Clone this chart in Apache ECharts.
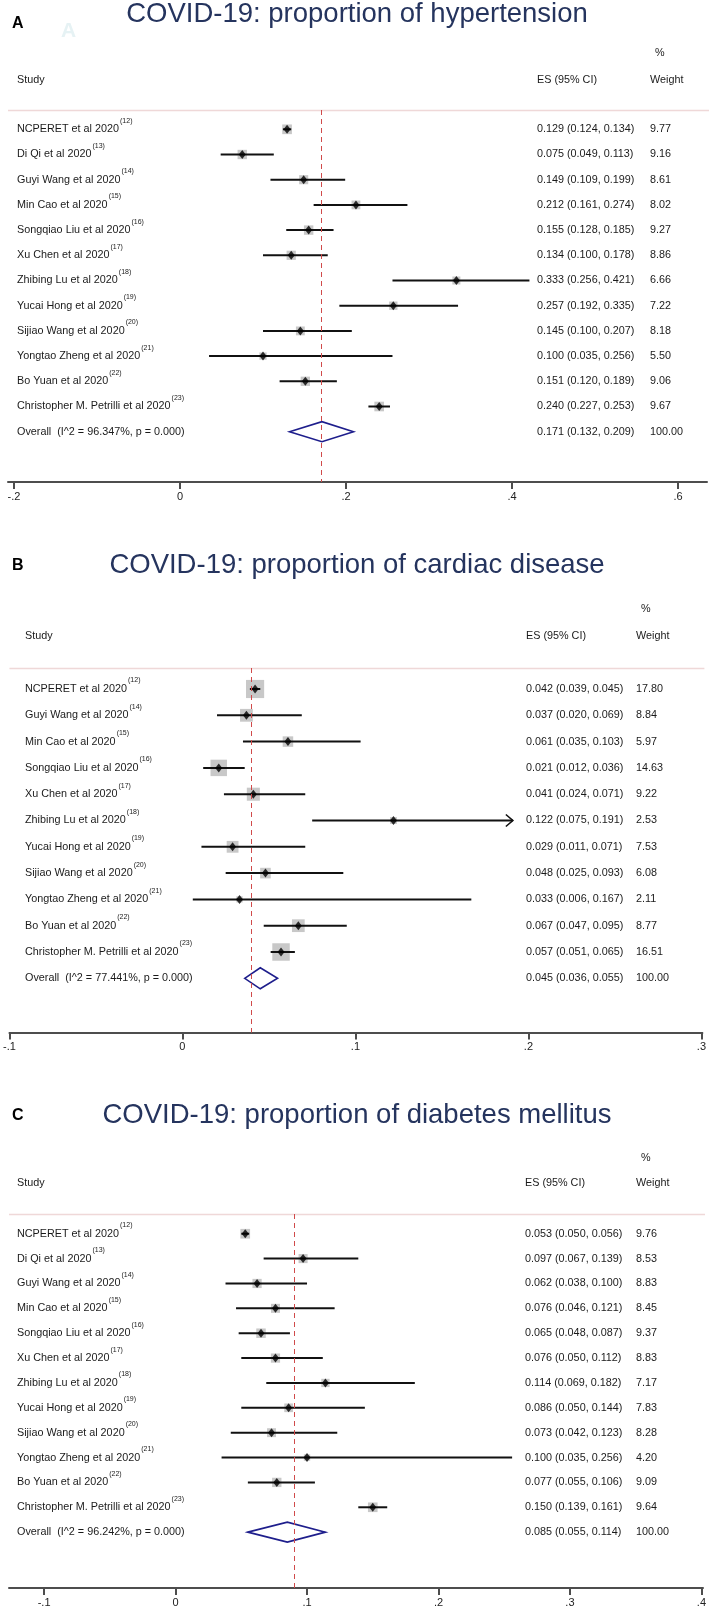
<!DOCTYPE html>
<html>
<head>
<meta charset="utf-8">
<script src="https://cdn.jsdelivr.net/npm/echarts@6/dist/echarts.min.js"></script>
<style>
html,body{margin:0;padding:0;background:#fff;}
#chart{width:709px;height:1608px;}
</style>
</head>
<body>
<div id="chart"></div>
<script>
// ---------------- DATA ----------------
const studyNames = ['NCPERET et al 2020','Di Qi et al 2020','Guyi Wang et al 2020','Min Cao et al 2020','Songqiao Liu et al 2020','Xu Chen et al 2020','Zhibing Lu et al 2020','Yucai Hong et al 2020','Sijiao Wang et al 2020','Yongtao Zheng et al 2020','Bo Yuan et al 2020','Christopher M. Petrilli et al 2020'];
const studyRefs = ['12','13','14','15','16','17','18','19','20','21','22','23'];

// A: hypertension
const titleA = 'COVID-19: proportion of hypertension';
const namesA = studyNames;
const refsA = studyRefs;
const esA = [0.129,0.075,0.149,0.212,0.155,0.134,0.333,0.257,0.145,0.100,0.151,0.240];
const loA = [0.124,0.049,0.109,0.161,0.128,0.100,0.256,0.192,0.100,0.035,0.120,0.227];
const hiA = [0.134,0.113,0.199,0.274,0.185,0.178,0.421,0.335,0.207,0.256,0.189,0.253];
const wA  = [9.77,9.16,8.61,8.02,9.27,8.86,6.66,7.22,8.18,5.50,9.06,9.67];
const overallA = [0.171,0.132,0.209];
const hetA = ['96.347%','0.000'];
const ticksA = [-0.2,0,0.2,0.4,0.6];

// B: cardiac disease
const titleB = 'COVID-19: proportion of cardiac disease';
const namesB = ['NCPERET et al 2020','Guyi Wang et al 2020','Min Cao et al 2020','Songqiao Liu et al 2020','Xu Chen et al 2020','Zhibing Lu et al 2020','Yucai Hong et al 2020','Sijiao Wang et al 2020','Yongtao Zheng et al 2020','Bo Yuan et al 2020','Christopher M. Petrilli et al 2020'];
const refsB = ['12','14','15','16','17','18','19','20','21','22','23'];
const esB = [0.042,0.037,0.061,0.021,0.041,0.122,0.029,0.048,0.033,0.067,0.057];
const loB = [0.039,0.020,0.035,0.012,0.024,0.075,0.011,0.025,0.006,0.047,0.051];
const hiB = [0.045,0.069,0.103,0.036,0.071,0.191,0.071,0.093,0.167,0.095,0.065];
const wB  = [17.80,8.84,5.97,14.63,9.22,2.53,7.53,6.08,2.11,8.77,16.51];
const overallB = [0.045,0.036,0.055];
const hetB = ['77.441%','0.000'];
const ticksB = [-0.1,0,0.1,0.2,0.3];

// C: diabetes mellitus
const titleC = 'COVID-19: proportion of diabetes mellitus';
const namesC = studyNames;
const refsC = studyRefs;
const esC = [0.053,0.097,0.062,0.076,0.065,0.076,0.114,0.086,0.073,0.100,0.077,0.150];
const loC = [0.050,0.067,0.038,0.046,0.048,0.050,0.069,0.050,0.042,0.035,0.055,0.139];
const hiC = [0.056,0.139,0.100,0.121,0.087,0.112,0.182,0.144,0.123,0.256,0.106,0.161];
const wC  = [9.76,8.53,8.83,8.45,9.37,8.83,7.17,7.83,8.28,4.20,9.09,9.64];
const overallC = [0.085,0.055,0.114];
const hetC = ['96.242%','0.000'];
const ticksC = [-0.1,0,0.1,0.2,0.3,0.4];

// ---------------- LAYOUT (pixels) ----------------
const FONT = "'Liberation Sans', Arial, Helvetica, sans-serif";
const TXT = 10.8;
const layouts = {
  A: {letterY:24, titleY:14, pctY:53, headY:80, sepY:110, row0:129.3, step:25.2, axisY:482,
      axisLeft:8, axisRight:707, tickPx:[14,678], nameX:17, esX:537, wX:650, boxK:3.1, diaH:20, arrowAbove:Infinity},
  B: {letterY:566, titleY:565, pctY:609, headY:636, sepY:668, row0:689, step:26.3, axisY:1032.5,
      axisLeft:7, axisRight:708, tickPx:[7,707], nameX:25, esX:526, wX:636, boxK:4.3, diaH:21, arrowAbove:0.19},
  C: {letterY:1116, titleY:1115, pctY:1158, headY:1183, sepY:1214, row0:1234, step:25.2, axisY:1593,
      axisLeft:9, axisRight:709, tickPx:[44.4,707.4], nameX:17, esX:525, wX:636, boxK:3.1, diaH:20, arrowAbove:Infinity}
};

const panels = [
  {key:'A', title:titleA, names:namesA, refs:refsA, es:esA, lo:loA, hi:hiA, w:wA, overall:overallA, het:hetA, ticks:ticksA},
  {key:'B', title:titleB, names:namesB, refs:refsB, es:esB, lo:loB, hi:hiB, w:wB, overall:overallB, het:hetB, ticks:ticksB},
  {key:'C', title:titleC, names:namesC, refs:refsC, es:esC, lo:loC, hi:hiC, w:wC, overall:overallC, het:hetC, ticks:ticksC}
];

function stataTick(v){
  if (Math.abs(v) < 1e-9) return '0';
  return String(+v.toFixed(3)).replace(/^(-?)0\./, '$1.');
}

const option = {animation:false, backgroundColor:'#ffffff', grid:[], xAxis:[], yAxis:[], series:[], graphic:[]};

panels.forEach((p, gi) => {
  const L = layouts[p.key];
  const t0 = p.ticks[0], t1 = p.ticks[p.ticks.length-1];
  const unitPx = (L.tickPx[1]-L.tickPx[0])/(t1-t0);
  const xMin = t0 - (L.tickPx[0]-L.axisLeft)/unitPx;
  const xMax = t1 + (L.axisRight-L.tickPx[1])/unitPx;
  const yMin = -(L.row0 - L.sepY)/L.step;
  const yMax = yMin + (L.axisY - L.sepY)/L.step;
  const n = p.es.length;

  option.grid.push({left:L.axisLeft, width:L.axisRight-L.axisLeft, top:L.sepY, height:L.axisY-L.sepY, show:false});
  option.xAxis.push({
    gridIndex:gi, type:'value', min:xMin, max:xMax, position:'bottom',
    axisLine:{show:true, onZero:false, lineStyle:{color:'#4d4d4d', width:2}},
    axisTick:{show:true, customValues:p.ticks, length:7, lineStyle:{color:'#4d4d4d', width:2}},
    axisLabel:{show:true, customValues:p.ticks, formatter:stataTick, fontSize:11, color:'#222', margin:9, fontFamily:FONT},
    splitLine:{show:false}
  });
  option.yAxis.push({gridIndex:gi, type:'value', inverse:true, min:yMin, max:yMax, show:false});

  // header separator (top edge of the plot region)
  option.series.push({
    type:'custom', xAxisIndex:gi, yAxisIndex:gi, silent:true, z:1, clip:false,
    data:[[xMin, xMax, yMin]],
    renderItem:(params, api)=>{
      const a = api.coord([api.value(0), api.value(2)]);
      const b = api.coord([api.value(1), api.value(2)]);
      return {type:'line', shape:{x1:a[0], y1:a[1]+0.5, x2:b[0]+2, y2:b[1]+0.5}, style:{stroke:'#efd8d8', lineWidth:1.3}};
    }
  });
  // weight boxes + null-effect (overall) dashed line
  option.series.push({
    type:'scatter', xAxisIndex:gi, yAxisIndex:gi, symbol:'rect', silent:true, z:2,
    symbolSize:(v)=> L.boxK*Math.sqrt(v[2]),
    itemStyle:{color:'#c8c8c8', opacity:1},
    data: p.es.map((e,i)=>[e, i, p.w[i]]),
    markLine:{silent:true, symbol:'none', label:{show:false}, animation:false,
      data:[
        {xAxis:p.overall[0], lineStyle:{color:'#d04a4a', width:1, type:[5,4]}}
      ]}
  });
  // CI lines
  option.series.push({
    type:'custom', xAxisIndex:gi, yAxisIndex:gi, silent:true, z:3,
    data: p.es.map((e,i)=>[p.lo[i], p.hi[i], i]),
    renderItem:(params, api)=>{
      const a = api.coord([api.value(0), api.value(2)]);
      const b = api.coord([api.value(1), api.value(2)]);
      const kids = [{type:'line', shape:{x1:a[0], y1:a[1], x2:b[0], y2:b[1]}, style:{stroke:'#111', lineWidth:2}}];
      if (api.value(1) > L.arrowAbove) {
        kids.push({type:'polyline', shape:{points:[[b[0]-7,b[1]-6],[b[0],b[1]],[b[0]-7,b[1]+6]]}, style:{stroke:'#111', lineWidth:1.6, fill:null}});
      }
      return {type:'group', children:kids};
    }
  });
  // point estimates
  option.series.push({
    type:'scatter', xAxisIndex:gi, yAxisIndex:gi, symbol:'diamond', symbolSize:[7,9], silent:true, z:4,
    itemStyle:{color:'#000'},
    data: p.es.map((e,i)=>[e, i])
  });
  // overall diamond
  option.series.push({
    type:'custom', xAxisIndex:gi, yAxisIndex:gi, silent:true, z:4,
    data:[[p.overall[0], p.overall[1], p.overall[2], n]],
    renderItem:(params, api)=>{
      const c = api.coord([api.value(0), api.value(3)]);
      const l = api.coord([api.value(1), api.value(3)]);
      const r = api.coord([api.value(2), api.value(3)]);
      const h = L.diaH/2;
      return {type:'polygon', shape:{points:[[l[0],l[1]],[c[0],c[1]-h],[r[0],r[1]],[c[0],c[1]+h]]},
        style:{stroke:'#1e1e8c', lineWidth:1.6, fill:null}};
    }
  });
  // row texts
  const rows = p.names.map((nm,i)=>({
    label:'{n|'+nm+'}{s|('+p.refs[i]+')}',
    es:p.es[i].toFixed(3)+' ('+p.lo[i].toFixed(3)+', '+p.hi[i].toFixed(3)+')',
    w:p.w[i].toFixed(2)
  }));
  rows.push({
    label:'{n|Overall  (I^2 = '+p.het[0]+', p = '+p.het[1]+')}',
    es:p.overall[0].toFixed(3)+' ('+p.overall[1].toFixed(3)+', '+p.overall[2].toFixed(3)+')',
    w:(100).toFixed(2)
  });
  option.series.push({
    type:'custom', xAxisIndex:gi, yAxisIndex:gi, silent:true, z:5,
    data: rows.map((r,i)=>[xMin, i]),
    renderItem:(params, api)=>{
      const y = api.coord([api.value(0), api.value(1)])[1];
      const r = rows[params.dataIndex];
      return {type:'group', children:[
        {type:'text', x:L.nameX, y:y, style:{text:r.label, align:'left', verticalAlign:'middle',
          rich:{n:{fontSize:TXT, fontFamily:FONT, fill:'#1a1a1a', lineHeight:24, verticalAlign:'middle'},
                s:{fontSize:7, fontFamily:FONT, fill:'#1a1a1a', lineHeight:8, verticalAlign:'top', padding:[0,0,0,1]}}}},
        {type:'text', x:L.esX, y:y, style:{text:r.es, fontSize:TXT, fontFamily:FONT, fill:'#1a1a1a', align:'left', verticalAlign:'middle'}},
        {type:'text', x:L.wX, y:y, style:{text:r.w, fontSize:TXT, fontFamily:FONT, fill:'#1a1a1a', align:'left', verticalAlign:'middle'}}
      ]};
    }
  });

  // static texts
  option.graphic.push(
    {type:'text', x:12, y:L.letterY, style:{text:p.key, fontSize:16, fontWeight:'bold', fontFamily:FONT, fill:'#000', verticalAlign:'middle'}},
    {type:'text', x:357, y:L.titleY, style:{text:p.title, fontSize:27.5, fontFamily:FONT, fill:'#25345e', align:'center', verticalAlign:'middle'}},
    {type:'text', x:L.wX+5, y:L.pctY, style:{text:'%', fontSize:TXT, fontFamily:FONT, fill:'#1a1a1a', verticalAlign:'middle'}},
    {type:'text', x:L.nameX, y:L.headY, style:{text:'Study', fontSize:TXT, fontFamily:FONT, fill:'#1a1a1a', verticalAlign:'middle'}},
    {type:'text', x:L.esX, y:L.headY, style:{text:'ES (95% CI)', fontSize:TXT, fontFamily:FONT, fill:'#1a1a1a', verticalAlign:'middle'}},
    {type:'text', x:L.wX, y:L.headY, style:{text:'Weight', fontSize:TXT, fontFamily:FONT, fill:'#1a1a1a', verticalAlign:'middle'}}
  );
});
// faint ghost letter in panel A
option.graphic.push({type:'text', x:61, y:31, style:{text:'A', fontSize:21, fontWeight:'bold', fontFamily:FONT, fill:'#e6f2f4', verticalAlign:'middle'}});

const chart = echarts.init(document.getElementById('chart'), null, {renderer:'canvas'});
chart.setOption(option);
</script>
</body>
</html>
